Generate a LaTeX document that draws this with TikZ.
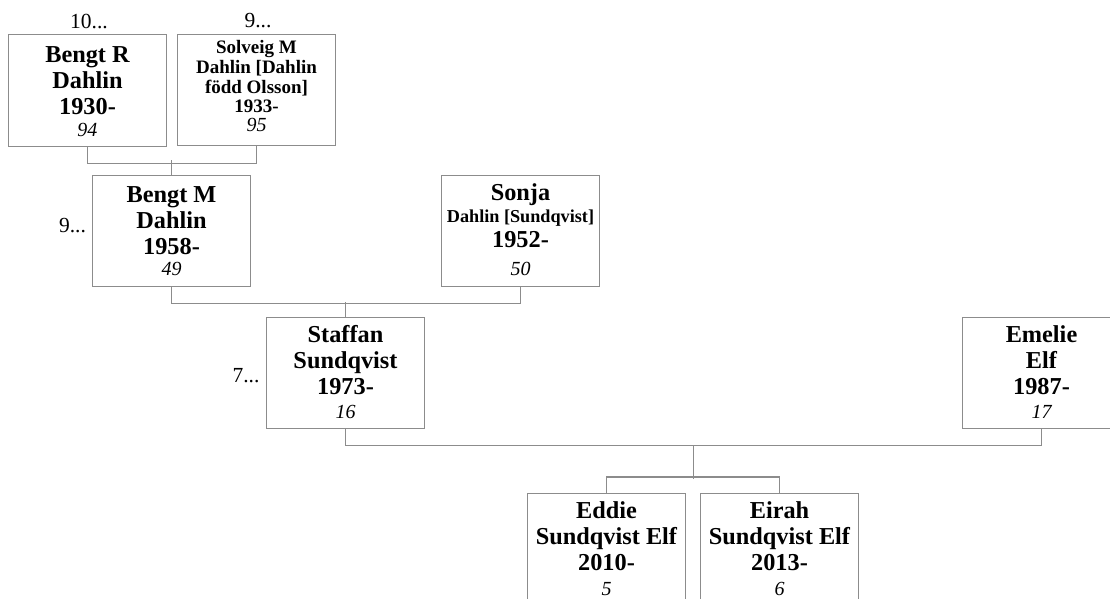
\documentclass[tikz,border=0pt]{standalone}
\usepackage{fontspec}
\setmainfont{Liberation Serif}
\usetikzlibrary{calc}
\definecolor{linegray}{RGB}{140,140,140}
\tikzset{
  person/.style={draw=linegray, line width=1.1pt, text width=158pt, align=flush center,
    inner xsep=0pt, inner ysep=0pt, anchor=north,
    font=\fontsize{24.3}{26}\selectfont\bfseries},
  conn/.style={draw=linegray, line width=1.1pt},
  gen/.style={anchor=base, inner sep=0pt, font=\fontsize{21.5}{24}\selectfont}
}
\newcommand{\numit}[1]{\fontsize{20}{22}\selectfont\mdseries\itshape #1}
\begin{document}
\begin{tikzpicture}[x=1pt, y=-1pt]
\useasboundingbox (0,0) rectangle (1110,599);
\clip (0,0) rectangle (1110,599);

% persons
\node[person] (bengtR) at (87.5,34)
  {\rule{0pt}{28pt}Bengt R\\ Dahlin\\ 1930-\\[-4pt] \numit{94}\rule[-10pt]{0pt}{10pt}};
\node[person, font=\fontsize{19}{20}\selectfont\bfseries] (solveig) at (256.5,34)
  {\rule{0pt}{19pt}Solveig M\\ Dahlin [Dahlin\\ född Olsson]\\[-1pt] 1933-\\[-1pt] \numit{95}\rule[-14pt]{0pt}{14pt}};
\node[person] (bengtM) at (171.5,175)
  {\rule{0pt}{27pt}Bengt M\\ Dahlin\\ 1958-\\[-5pt] \numit{49}\rule[-11pt]{0pt}{11pt}};
\node[person] (sonja) at (520.5,175)
  {\rule{0pt}{25pt}Sonja\\[-4pt] {\fontsize{18.2}{20}\selectfont Dahlin [Sundqvist]}\\[-1pt] 1952-\\[2pt] \numit{50}\rule[-11pt]{0pt}{11pt}};
\node[person] (staffan) at (345.5,317)
  {\rule{0pt}{25pt}Staffan\\ Sundqvist\\ 1973-\\[-2pt] \numit{16}\rule[-10pt]{0pt}{10pt}};
\node[person] (emelie) at (1041.5,317)
  {\rule{0pt}{25pt}Emelie\\ Elf\\ 1987-\\[-2pt] \numit{17}\rule[-10pt]{0pt}{10pt}};
\node[person] (eddie) at (606.5,493)
  {\rule{0pt}{25pt}Eddie\\ Sundqvist Elf\\ 2010-\\[-1pt] \numit{5}\rule[-10pt]{0pt}{10pt}};
\node[person] (eirah) at (779.5,493)
  {\rule{0pt}{25pt}Eirah\\ Sundqvist Elf\\ 2013-\\[-1pt] \numit{6}\rule[-10pt]{0pt}{10pt}};

% generation markers
\node[gen] (g1) at (89,29) {10...};
\node[gen] (g2) at (258,28) {9...};
\node[gen] (g3) at (72.5,232) {9...};
\node[gen] (g4) at (246,382) {7...};

% connectors
\draw[conn] (bengtR.south) -- ++(0,16) -| (solveig.south);
\draw[conn] (bengtM.north) -- ++(0,-15);
\draw[conn] (bengtM.south) -- ++(0,16) -| (sonja.south);
\draw[conn] (staffan.north) -- ++(0,-15);
\draw[conn] (staffan.south) -- ++(0,16) -| (emelie.south);
\coordinate (cj) at ($(staffan.south)!0.5!(emelie.south)+(0,16)$);
\draw[conn] (cj) -- ++(0,34);
\draw[conn] (eddie.north) -- ++(0,-16) -| (eirah.north);
\end{tikzpicture}
\end{document}
